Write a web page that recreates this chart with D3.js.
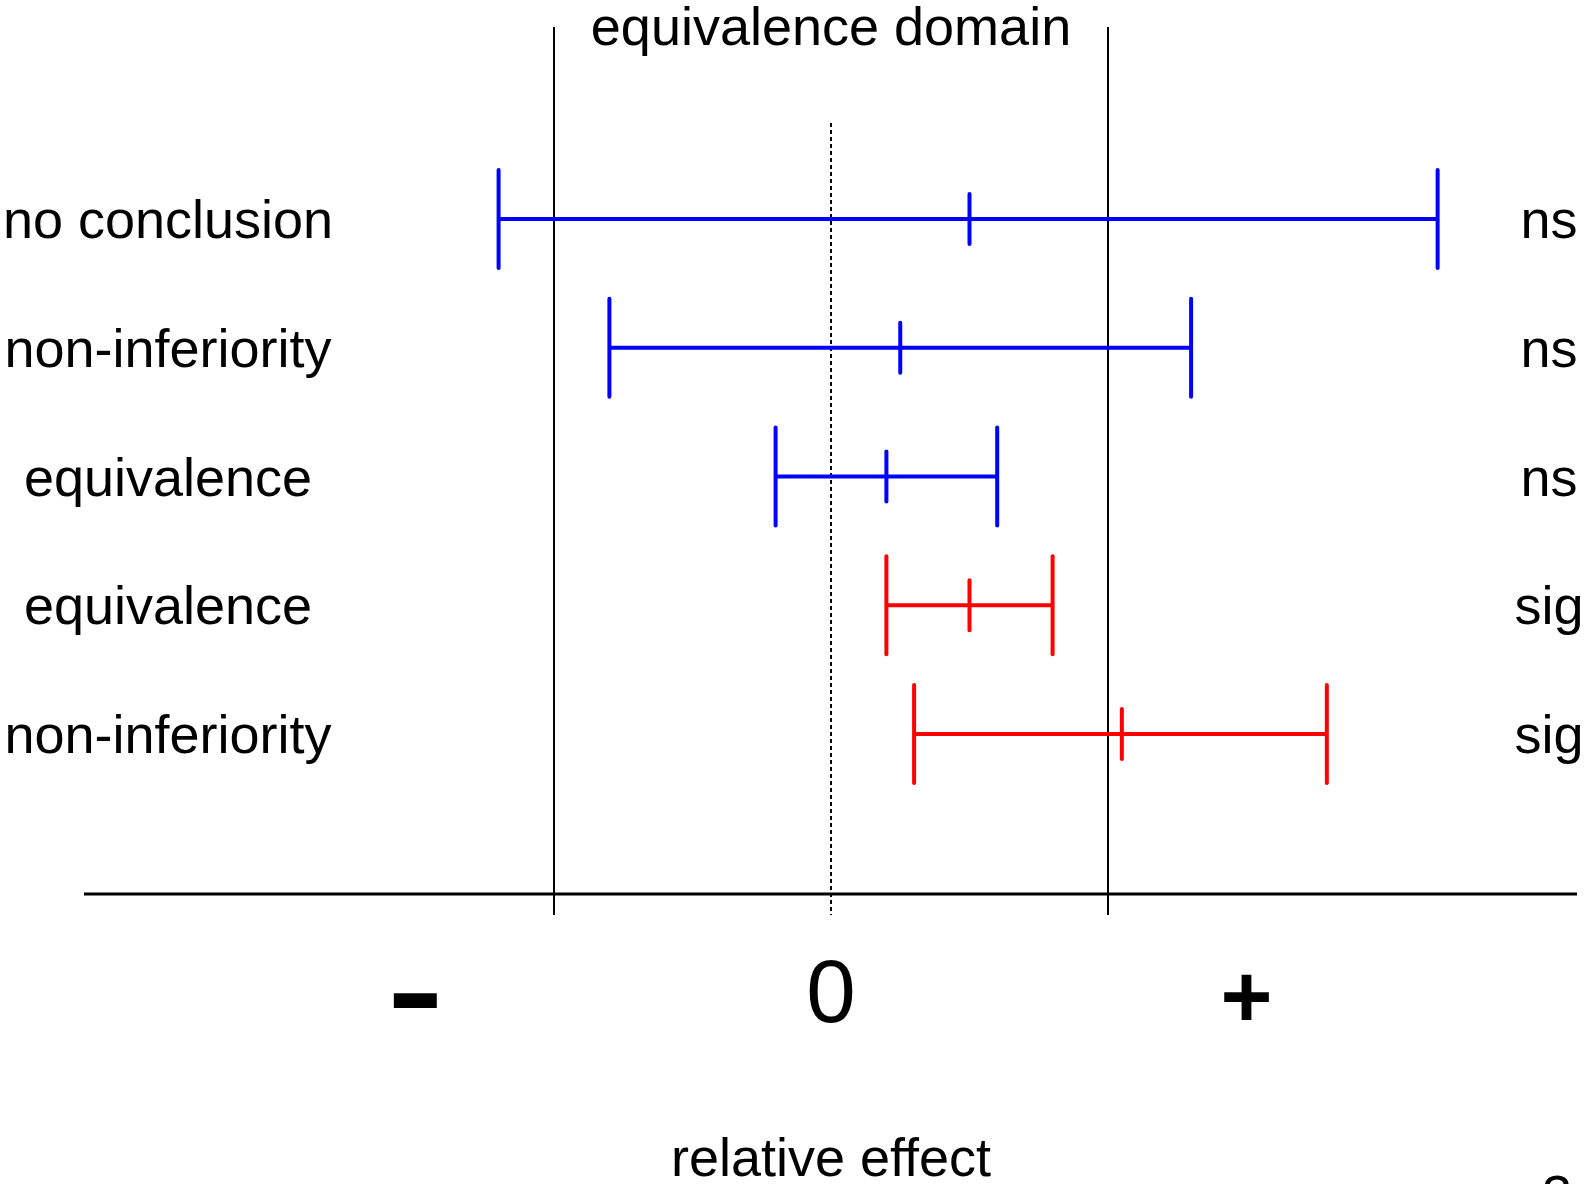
<!DOCTYPE html>
<html>
<head>
<title>Equivalence domain</title>
<style>
  body { margin: 0; background: #fff; }
  svg { display: block; font-family: "Liberation Sans", Arial, sans-serif; }
  .rowlab, .verdict, .title { font-size: 54px; fill: #000; }
</style>
<script src="https://d3js.org/d3.v7.min.js"></script>
</head>
<body>
<script>
// one row per confidence interval, top to bottom
var labels   = ["no conclusion", "non-inferiority", "equivalence", "equivalence", "non-inferiority"];
var lower    = [-1.2, -0.8, -0.2, 0.2, 0.3];
var estimate = [0.5, 0.25, 0.2, 0.5, 1.05];
var upper    = [2.19, 1.3, 0.6, 0.8, 1.79];
var verdict  = ["ns", "ns", "ns", "sig", "sig"];

// equivalence margins and the signs under the axis
var margins   = [-1, 1];
var tickVals  = [-1.5, 0, 1.5];
var tickTexts = ["-", "0", "+"];

var width = 1585, height = 1184;

var x = d3.scaleLinear().domain([-1, 1]).range([554, 1108]);
var y = d3.scalePoint().domain(d3.range(labels.length)).range([219, 734]);
var colour = d3.scaleOrdinal().domain(["ns", "sig"]).range(["#0000ff", "#ff0000"]);

var axisY = 894;

var svg = d3.select("body").append("svg")
    .attr("width", width)
    .attr("height", height);

// equivalence domain bounds
svg.selectAll("line.margin")
    .data(margins)
    .enter().append("line")
    .attr("class", "margin")
    .attr("x1", function(d) { return x(d); })
    .attr("x2", function(d) { return x(d); })
    .attr("y1", 27)
    .attr("y2", 915)
    .attr("stroke", "#000")
    .attr("stroke-width", 2);

// zero line
svg.append("line")
    .attr("x1", x(0)).attr("x2", x(0))
    .attr("y1", 123).attr("y2", 915)
    .attr("stroke", "#000")
    .attr("stroke-width", 2)
    .attr("stroke-dasharray", "4,3");

svg.append("text")
    .attr("class", "title")
    .attr("x", x(0))
    .attr("y", 45)
    .attr("text-anchor", "middle")
    .text("equivalence domain");

// horizontal axis line
svg.append("line")
    .attr("x1", 84).attr("x2", 1577)
    .attr("y1", axisY).attr("y2", axisY)
    .attr("stroke", "#000")
    .attr("stroke-width", 3);

// signs below the axis
var ticks = svg.selectAll("g.tick")
    .data(tickVals)
    .enter().append("g")
    .attr("class", "tick")
    .attr("transform", function(d) { return "translate(" + x(d) + ",1022)"; });

ticks.append("text")
    .attr("text-anchor", "middle")
    .attr("font-size", 89)
    .attr("font-weight", function(d, i) { return tickTexts[i] == "0" ? "normal" : "bold"; })
    .attr("transform", function(d, i) {
        if (tickTexts[i] == "-") return "translate(0,11) scale(1.9,1.4)";
        if (tickTexts[i] == "+") return "translate(0,5)";
        return null;
    })
    .text(function(d, i) { return tickTexts[i]; });

svg.append("text")
    .attr("class", "title")
    .attr("x", x(0))
    .attr("y", 1176)
    .attr("text-anchor", "middle")
    .text("relative effect");

// intervals
var rows = svg.selectAll("g.row")
    .data(labels)
    .enter().append("g")
    .attr("class", "row")
    .attr("transform", function(d, i) { return "translate(0," + y(i) + ")"; });

rows.append("line")
    .attr("x1", function(d, i) { return x(lower[i]); })
    .attr("x2", function(d, i) { return x(upper[i]); })
    .attr("stroke", function(d, i) { return colour(verdict[i]); })
    .attr("stroke-width", 4);

// end caps and point estimate
rows.each(function(d, i) {
    var g = d3.select(this);
    [lower[i], upper[i]].forEach(function(v) {
        g.append("line")
            .attr("x1", x(v)).attr("x2", x(v))
            .attr("y1", -49).attr("y2", 49)
            .attr("stroke", colour(verdict[i]))
            .attr("stroke-width", 4)
            .attr("stroke-linecap", "round");
    });
    g.append("line")
        .attr("x1", x(estimate[i])).attr("x2", x(estimate[i]))
        .attr("y1", -25).attr("y2", 25)
        .attr("stroke", colour(verdict[i]))
        .attr("stroke-width", 4)
        .attr("stroke-linecap", "round");
});

rows.append("text")
    .attr("class", "rowlab")
    .attr("x", 168)
    .attr("y", 19)
    .attr("text-anchor", "middle")
    .text(function(d) { return d; });

rows.append("text")
    .attr("class", "verdict")
    .attr("x", 1549)
    .attr("y", 19)
    .attr("text-anchor", "middle")
    .text(function(d, i) { return verdict[i]; });

// page number, mostly cut off by the bottom edge
svg.append("text")
    .attr("class", "title")
    .attr("x", 1557)
    .attr("y", 1213)
    .attr("text-anchor", "middle")
    .text("3");
</script>
</body>
</html>
